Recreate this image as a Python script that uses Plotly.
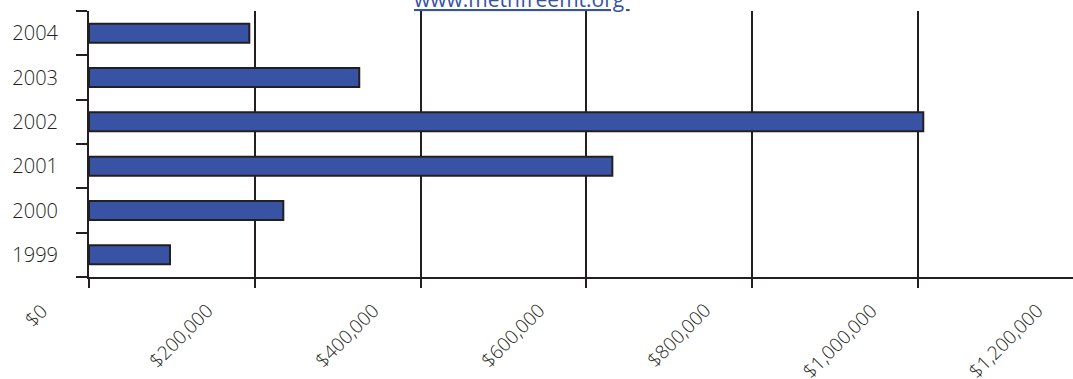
import plotly.graph_objects as go

# Annual spending by year (USD)
years = ["1999", "2000", "2001", "2002", "2003", "2004"]
amounts = [97700, 234400, 631300, 1006400, 326000, 193400]

# Value axis ticks
tick_values = [0, 200000, 400000, 600000, 800000, 1000000, 1200000]
tick_labels = ["$0", "$200,000", "$400,000", "$600,000", "$800,000", "$1,000,000", "$1,200,000"]

X_MAX = 1187000

INK = "#231f20"
BAR = "#3953a4"
TEXT = "#231f20"

fig = go.Figure(
    go.Bar(
        x=amounts,
        y=years,
        orientation="h",
        marker=dict(color=BAR, line=dict(color=INK, width=2)),
        hoverinfo="skip",
    )
)

# Rotated value labels under each tick (paper coords so the last one,
# just past the visible range, is still drawn)
for v, t in zip(tick_values, tick_labels):
    fig.add_annotation(
        x=v / X_MAX, y=0, xref="paper", yref="paper",
        text=t, showarrow=False, textangle=-45,
        xanchor="right", yanchor="top",
        xshift=-33, yshift=-18,
        font=dict(family="Open Sans", size=19, color=TEXT, weight=300),
    )

# Website link at the top
fig.add_annotation(
    x=0.44, y=1, xref="paper", yref="paper",
    text="<u>www.methfreemt.org </u>", showarrow=False,
    xanchor="center", yanchor="bottom", yshift=-4,
    font=dict(family="Open Sans", size=21, color=BAR),
)

fig.update_layout(
    width=1073, height=379,
    margin=dict(l=89, r=0, t=11, b=102),
    paper_bgcolor="white", plot_bgcolor="white",
    showlegend=False,
    bargap=0.57,
    xaxis=dict(
        range=[0, X_MAX],
        tickvals=tick_values,
        showticklabels=False,
        showgrid=True, gridcolor=INK, gridwidth=2,
        zeroline=False,
        showline=True, linecolor=INK, linewidth=2,
        ticks="outside", ticklen=9, tickwidth=2, tickcolor=INK,
    ),
    yaxis=dict(
        type="category",
        categoryorder="array", categoryarray=years,
        showgrid=False, zeroline=False,
        showline=True, linecolor=INK, linewidth=2,
        ticks="outside", tickson="boundaries", ticklen=11, tickwidth=2, tickcolor=INK,
        ticklabelstandoff=25,
        tickfont=dict(family="Open Sans", size=20, color=TEXT, weight=300),
    ),
)

fig.write_html("out.html")
